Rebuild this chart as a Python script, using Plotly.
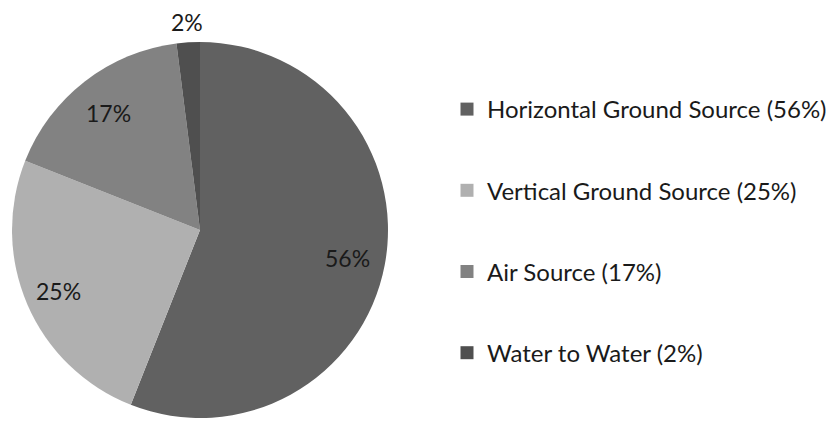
import math
import plotly.graph_objects as go

categories = ["Horizontal Ground Source", "Vertical Ground Source", "Air Source", "Water to Water"]
values = [56, 25, 17, 2]
colors = ["#616161", "#b0b0b0", "#828282", "#4f4f4f"]
legend_labels = [f"{c} ({v}%)" for c, v in zip(categories, values)]
label_radius = [0.8, 0.82, 0.79, 1.11]  # label distance from centre, as fraction of radius

FONT = "Lato"
W, H = 831, 414          # page body adds an 8px margin
CX, CY, R = 192, 222, 188  # pie centre / radius in figure pixels

fig = go.Figure()
fig.add_trace(go.Pie(
    labels=categories,
    values=values,
    sort=False,
    direction="clockwise",
    rotation=0,
    marker=dict(colors=colors, line=dict(width=0)),
    textinfo="none",
    showlegend=False,
    hoverinfo="label+percent",
    domain=dict(x=[(CX - R) / W, (CX + R) / W], y=[(H - CY - R) / H, (H - CY + R) / H]),
))

# percentage labels placed along each slice's bisector
total = sum(values)
cum = 0
for v, rf in zip(values, label_radius):
    mid = (cum + v / 2) / total * 2 * math.pi
    cum += v
    px = CX + rf * R * math.sin(mid)
    py = CY - rf * R * math.cos(mid)
    fig.add_annotation(
        x=px / W, y=1 - py / H, xref="paper", yref="paper",
        text=f"{round(v / total * 100)}%", showarrow=False,
        font=dict(family=FONT, size=23, color="#1a1a1a"),
        xanchor="center", yanchor="middle",
    )

for name, c in zip(legend_labels, colors):
    fig.add_trace(go.Scatter(
        x=[None], y=[None], mode="markers",
        marker=dict(symbol="square", size=13, color=c),
        name=name, legendgroup=name, showlegend=True,
    ))

fig.update_layout(
    width=W, height=H,
    margin=dict(l=0, r=0, t=0, b=0),
    paper_bgcolor="white", plot_bgcolor="white",
    xaxis=dict(visible=False), yaxis=dict(visible=False),
    legend=dict(
        x=439 / W, y=1 - 79 / H, xanchor="left", yanchor="top",
        font=dict(family=FONT, size=24, color="#1a1a1a"),
        tracegroupgap=47, bgcolor="rgba(0,0,0,0)",
    ),
    font=dict(family=FONT),
)

fig.write_html("out.html")
